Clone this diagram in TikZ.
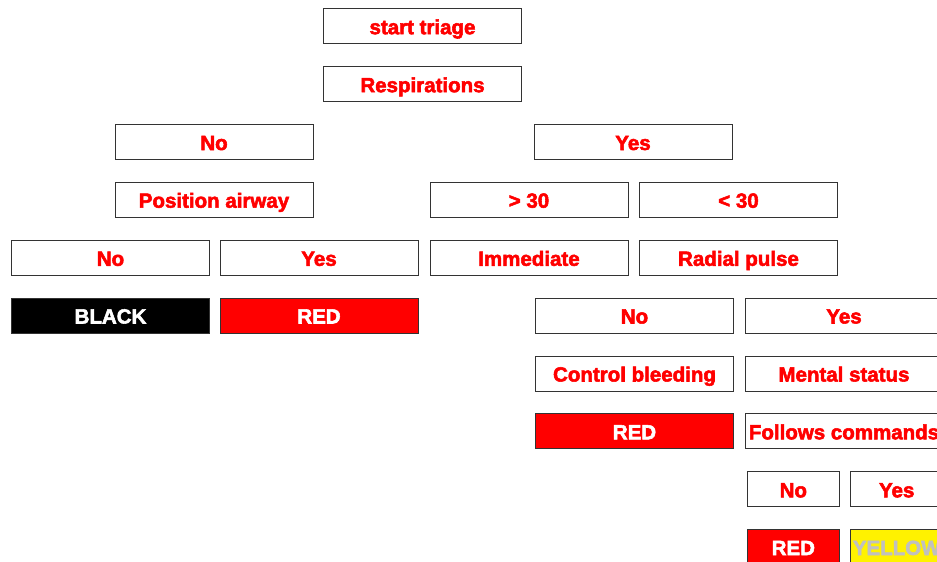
\documentclass[tikz,border=0pt]{standalone}
\usepackage{fontspec}
\newfontfamily\boxfont[BoldFeatures={FakeBold=2.6}]{Liberation Sans}
\definecolor{bordergray}{HTML}{333333}
\definecolor{txtred}{HTML}{FF0000}
\definecolor{yellowgray}{HTML}{C0C0C0}
\tikzset{
  box/.style={draw=bordergray, line width=0.9pt, fill=white, minimum width=198pt, minimum height=35pt,
    inner sep=0pt, text height=16pt, text depth=0pt, text=txtred,
    font=\boxfont\bfseries\fontsize{20.5}{21}\selectfont},
  smallbox/.style={box, minimum width=92pt},
  blackbox/.style={fill=black, text=white},
  redbox/.style={fill=txtred, text=white},
  yellowbox/.style={fill=yellow, text=yellowgray}
}
\begin{document}
\begin{tikzpicture}[x=1pt,y=1pt]
\useasboundingbox (0,0) rectangle (937,-562);
\clip (0,0) rectangle (937,-562);
\fill[white] (0,0) rectangle (937,-562);
% row 1-2
\node[box] (start) at (422.5,-26.2) {start triage};
\node[box] (resp) at (422.5,-84.2) {Respirations};
% row 3
\node[box] (rno) at (214,-142) {No};
\node[box] (ryes) at (633,-142) {Yes};
% row 4
\node[box] (posair) at (214,-199.7) {Position airway};
\node[box] (gt) at (529,-199.7) {> 30};
\node[box] (lt) at (738.5,-199.7) {< 30};
% row 5
\node[box] (pno) at (110.5,-257.8) {No};
\node[box] (pyes) at (319,-257.8) {Yes};
\node[box] (imm) at (529,-257.8) {Immediate};
\node[box] (radial) at (738.5,-257.8) {Radial pulse};
% row 6
\node[box,blackbox] (black) at (110.5,-315.5) {BLACK};
\node[box,redbox] (red1) at (319,-315.5) {RED};
\node[box] (radno) at (634.5,-315.5) {No};
\node[box] (radyes) at (844,-315.5) {Yes};
% row 7
\node[box] (bleed) at (634.5,-373.5) {Control bleeding};
\node[box] (mental) at (844,-373.5) {Mental status};
% row 8
\node[box,redbox] (red2) at (634.5,-431.3) {RED};
\node[box] (follows) at (844,-431.3) {Follows commands};
% row 9
\node[smallbox] (fno) at (793.3,-489.3) {No};
\node[smallbox] (fyes) at (896.7,-489.3) {Yes};
% row 10
\node[smallbox,redbox] (red3) at (793.3,-547) {RED};
\node[smallbox,yellowbox] (yellow) at (896.7,-547) {YELLOW};
\end{tikzpicture}
\end{document}
